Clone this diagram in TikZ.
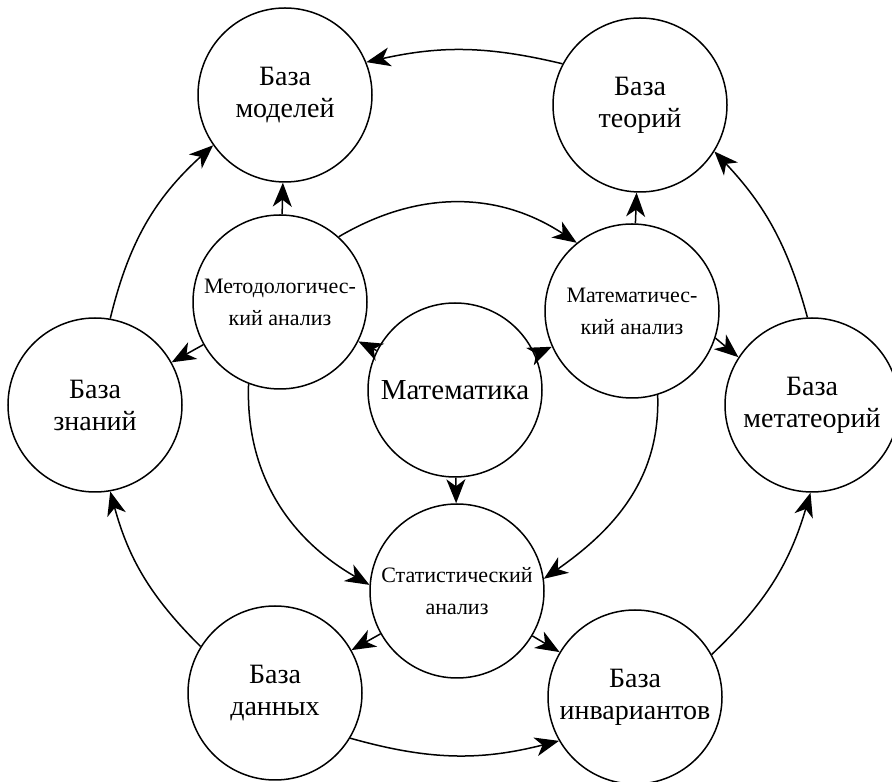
\documentclass[tikz,border=0pt]{standalone}
\usepackage{fontspec}
\setmainfont{Liberation Serif}
\usetikzlibrary{arrows.meta}
\begin{document}
\begin{tikzpicture}[x=1pt, y=1pt, every node/.style={circle, draw, minimum size=174pt, inner sep=0pt, align=center, font=\fontsize{28}{32}\selectfont}, every path/.style={line width=1.5pt}, small/.style={font=\fontsize{22}{32}\selectfont}, >={Stealth[length=24pt, width=19pt, inset=7pt]}]
	\useasboundingbox (0,0) rectangle (892,782);
	\node (bm) at (285,687) {База\\моделей};
	\node (bt) at (640,677) {База\\теорий};
	\node (bz) at (95,377) {База\\знаний};
	\node (bmt) at (812,377) {База\\метатеорий};
	\node[small] (ma) at (280,480) {Методологичес-\\кий анализ};
	\node[small] (mt) at (632,471) {Математичес-\\кий анализ};
	\node[font=\fontsize{29}{32}\selectfont] (m) at (455,392) {Математика};
	\node[small] (sa) at (457,191) {Статистический\\анализ};
	\node (bd) at (275,89) {База\\данных};
	\node (bi) at (635,85) {База\\инвариантов};
	\draw[->] (bt.152) to[bend right=13] (bm.22);
	\draw[->] (ma) -- (bm);
	\draw[->] (bz.80) to[bend left=17] (bm.215);
	\draw[->] (ma) -- (bz);
	\draw[->] (m) -- (ma);
	\draw[->] (m) -- (mt);
	\draw[->] (ma.48) to[bend left=32] (mt.129);
	\draw[->] (mt) -- (bt);
	\draw[->] (mt.-18) -- (bmt.147);
	\draw[->] (bmt.93) to[bend right=14] (bt.-32);
	\draw[->] (m) -- (sa);
	\draw[->] (ma.-111) to[out=-92, in=150] (sa.176);
	\draw[->] (mt.-73) to[out=-88, in=35] (sa.8);
	\draw[->] (sa) -- (bd);
	\draw[->] (sa) -- (bi);
	\draw[->] (bd.148) to[bend left=15] (bz.-80);
	\draw[->] (bd.-31) to[bend right=15] (bi.210);
	\draw[->] (bi.29) to[bend right=15] (bmt.-91);
\end{tikzpicture}
\end{document}
